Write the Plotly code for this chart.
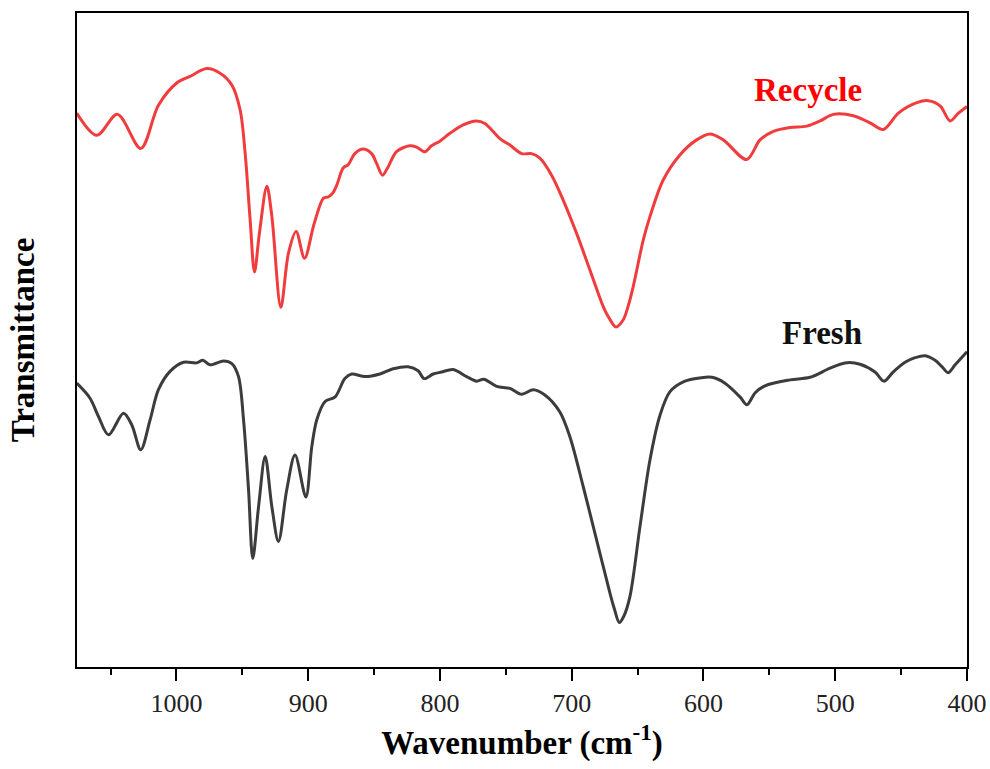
import plotly.graph_objects as go

# FTIR spectra: wavenumber (cm-1) and transmittance (a.u., offset for stacking)
recycle_wn = [1075.7, 1060.5, 1044.8, 1027.1, 1013.7, 999.8, 989.7, 977.0, 966.9, 958.0,
              951.7, 947.9, 944.1, 940.8, 937.0, 931.4, 927.6, 920.8, 915.0, 909.2,
              902.8, 895.5, 888.4, 884.6, 881.3, 878.3, 873.5, 869.7, 864.6, 858.3,
              851.9, 848.1, 843.6, 839.3, 833.0, 822.9, 817.8, 811.5, 806.4, 800.1,
              792.5, 782.4, 772.2, 765.9, 754.5, 746.9, 738.0, 730.5, 724.2, 715.3,
              706.5, 696.3, 686.2, 676.1, 671.8, 666.4, 660.9, 657.3, 653.3, 645.7,
              640.6, 630.5, 617.9, 605.2, 595.1, 585.0, 567.2, 557.1, 547.0, 534.3,
              521.6, 511.5, 501.4, 486.3, 473.6, 463.5, 452.1, 438.1, 429.3, 420.4,
              412.8, 406.5, 400.0]
recycle_t = [84.7, 81.3, 84.5, 79.3, 85.9, 89.3, 90.3, 91.5, 90.8, 89.0,
             85.2, 78.6, 68.4, 60.4, 66.4, 73.5, 68.9, 55.0, 63.3, 66.6,
             62.5, 67.8, 71.7, 71.9, 72.5, 73.7, 76.3, 76.8, 78.5, 79.2,
             78.5, 77.0, 75.2, 76.5, 78.8, 79.7, 79.5, 78.8, 79.7, 80.4,
             81.6, 82.9, 83.5, 83.1, 80.8, 79.8, 78.5, 78.5, 77.8, 75.2,
             71.4, 66.3, 60.7, 55.1, 53.4, 52.0, 53.1, 55.1, 58.2, 65.3,
             68.9, 74.5, 78.3, 80.6, 81.5, 80.6, 77.6, 80.6, 81.9, 82.5,
             82.7, 83.5, 84.5, 84.3, 83.2, 82.2, 84.7, 86.3, 86.6, 85.8,
             83.5, 84.7, 85.7]

fresh_wn = [1075.7, 1065.6, 1059.2, 1051.6, 1040.2, 1033.9, 1027.1, 1020.0, 1013.7, 1004.9,
            994.7, 984.6, 980.0, 974.5, 964.3, 958.0, 952.9, 949.1, 945.3, 942.1,
            937.7, 932.7, 927.6, 922.6, 916.3, 910.0, 901.8, 897.3, 893.5, 887.2,
            879.6, 872.2, 867.1, 857.0, 845.6, 835.5, 824.2, 816.6, 812.0, 805.2,
            798.8, 790.0, 779.8, 772.2, 766.7, 757.0, 746.9, 738.0, 729.2, 720.4,
            709.0, 701.4, 691.3, 681.1, 671.0, 667.5, 663.9, 660.4, 655.8, 648.2,
            640.6, 633.0, 625.4, 614.1, 602.7, 593.6, 583.7, 572.3, 567.0, 560.9,
            553.3, 534.3, 519.1, 503.9, 492.6, 481.2, 469.8, 463.0, 456.1, 447.0,
            439.4, 431.8, 424.2, 418.9, 414.4, 409.0, 400.0]
fresh_t = [43.4, 41.1, 38.3, 35.5, 38.8, 37.0, 33.2, 37.8, 42.4, 45.2,
           46.6, 46.5, 46.9, 46.2, 46.8, 46.4, 44.4, 37.8, 27.1, 16.6,
           24.5, 32.2, 24.5, 19.2, 27.1, 32.4, 26.0, 33.7, 37.8, 40.6,
           41.3, 44.1, 44.8, 44.4, 44.8, 45.6, 45.9, 45.3, 44.1, 44.8,
           45.1, 45.5, 44.4, 43.7, 44.0, 42.9, 42.6, 41.7, 42.4, 41.6,
           39.0, 35.2, 27.6, 19.4, 11.3, 8.8, 6.8, 7.8, 10.8, 21.5,
           31.7, 38.5, 42.1, 43.7, 44.2, 44.3, 43.4, 41.3, 40.1, 41.9,
           43.0, 43.9, 44.3, 45.7, 46.5, 46.3, 45.1, 43.7, 45.1, 46.6,
           47.3, 47.6, 46.9, 45.9, 45.0, 46.2, 48.2]

x_ticks = [1000, 900, 800, 700, 600, 500, 400]
serif = "Liberation Serif, Times New Roman, serif"

fig = go.Figure()
fig.add_trace(go.Scatter(x=recycle_wn, y=recycle_t, mode="lines", name="Recycle",
                         line=dict(color="#F03C3C", width=3, shape="spline", smoothing=0.9)))
fig.add_trace(go.Scatter(x=fresh_wn, y=fresh_t, mode="lines", name="Fresh",
                         line=dict(color="#3C3C3C", width=3, shape="spline", smoothing=0.9)))

fig.add_annotation(x=520.7, y=88.2, text="<b>Recycle</b>", showarrow=False,
                   font=dict(family=serif, size=33, color="#FF0000"))
fig.add_annotation(x=510.0, y=51.1, text="<b>Fresh</b>", showarrow=False,
                   font=dict(family=serif, size=33, color="#111111"))

fig.update_layout(
    width=990, height=769,
    margin=dict(l=77, r=23, t=13, b=102),
    paper_bgcolor="white", plot_bgcolor="white",
    showlegend=False,
    font=dict(family=serif, color="#222222"),
)
fig.update_xaxes(
    range=[1075.5, 400], autorange=False, automargin=False,
    tickvals=x_ticks, ticktext=[str(v) for v in x_ticks],
    ticks="outside", ticklen=12, tickwidth=2, tickcolor="black",
    minor=dict(dtick=50, tick0=0, ticks="outside", ticklen=6, tickwidth=2, tickcolor="black"),
    showline=True, linewidth=2, linecolor="black", mirror=True,
    showgrid=False, zeroline=False,
    tickfont=dict(family=serif, size=26, color="#222222"),
    title=dict(text="<b>Wavenumber (cm<sup>-1</sup>)</b>", standoff=14,
               font=dict(family=serif, size=33, color="black")),
)
fig.update_yaxes(
    range=[0, 100], autorange=False, automargin=False,
    showticklabels=False, ticks="",
    showline=True, linewidth=2, linecolor="black", mirror=True,
    showgrid=False, zeroline=False,
    title=dict(text="<b>Transmittance</b>", standoff=30,
               font=dict(family=serif, size=33, color="black")),
)

fig.write_html("out.html")
